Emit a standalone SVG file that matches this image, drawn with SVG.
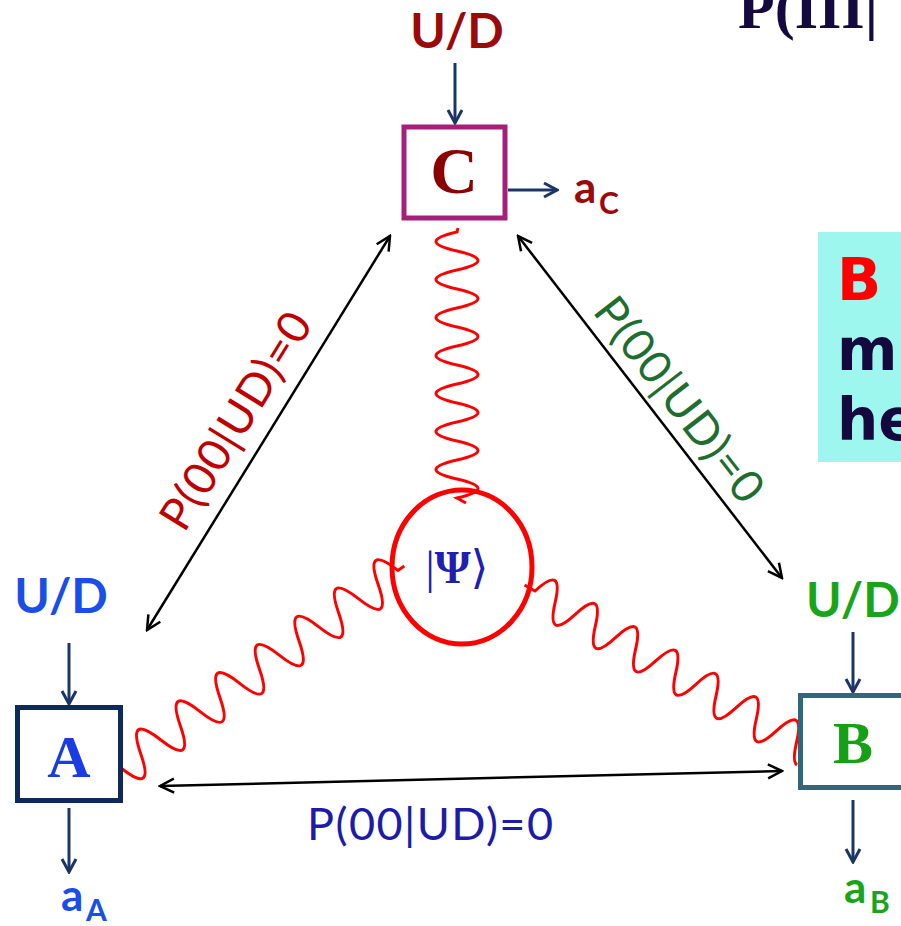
<svg xmlns="http://www.w3.org/2000/svg" width="901" height="926" viewBox="0 0 901 926">
<style>
.ud{font-family:Lato,"Liberation Sans",sans-serif;font-weight:bold;font-size:48px}
.out{font-family:Lato,"Liberation Sans",sans-serif;font-weight:bold;font-size:44px}
.sub{font-family:Lato,"Liberation Sans",sans-serif;font-weight:bold;font-size:30px}
.ser{font-family:"Liberation Serif","Times New Roman",serif;font-weight:bold;text-anchor:middle}
.lbl{font-family:Lato,"Liberation Sans",sans-serif;font-size:45px;text-anchor:middle}
.box{fill:#fff;stroke-width:5}
.nav{stroke:#1a3668;stroke-width:3;fill:none}
.blk{stroke:#000;stroke-width:2.5;fill:none}
.wave{stroke:#ff0000;stroke-width:3;fill:none}
</style>
<defs>
<marker id="ab" viewBox="0 0 20 20" refX="18" refY="10" markerWidth="20" markerHeight="20" markerUnits="userSpaceOnUse" orient="auto-start-reverse"><path d="M4 3 L18 10 L4 17" fill="none" stroke="#000" stroke-width="2.5"/></marker>
<marker id="an" viewBox="0 0 20 20" refX="18" refY="10" markerWidth="20" markerHeight="20" markerUnits="userSpaceOnUse" orient="auto"><path d="M5 3 L18 10 L5 17" fill="none" stroke="#1a3668" stroke-width="3"/></marker>
</defs>
<rect width="901" height="926" fill="#fff"/>
<g id="title"><text x="738" y="28" font-family="'Liberation Serif',serif" font-weight="bold" font-size="60" fill="#140a40">P(III|</text></g>
<g id="note">
<rect x="818" y="232" width="90" height="230" fill="#9ef7ee"/>
<text x="837" y="300" font-family="'DejaVu Sans',sans-serif" font-weight="bold" font-size="58" fill="#ff0000">B</text>
<text x="837" y="370" font-family="'DejaVu Sans',sans-serif" font-weight="bold" font-size="58" fill="#14093e">m</text>
<text x="837" y="440" font-family="'DejaVu Sans',sans-serif" font-weight="bold" font-size="58" fill="#14093e">he</text>
</g>
<g id="waves">
<path class="wave" d="M458 228 L457 232 Q415 241.5 457 251 T457 270 T457 289 T457 308 T457 327 T457 346 T457 365 T457 384 T457 403 T457 422 T457 441 T457 460 T457 479 T457 498 L466 503"/>
<path class="wave" transform="translate(121,768) rotate(-35.5)" d="M0 0 Q12.15 42 24.3 0 T48.6 0 T72.9 0 T97.2 0 T121.5 0 T145.8 0 T170.1 0 T194.4 0 T218.7 0 T243 0 T267.3 0 T291.6 0 T315.9 0 T340.2 0 L348 0"/>
<path class="wave" transform="translate(535,591) rotate(30.1)" d="M-12 0 L0 0 Q11.625 -38 23.25 0 T46.5 0 T69.75 0 T93 0 T116.25 0 T139.5 0 T162.75 0 T186 0 T209.25 0 T232.5 0 T255.75 0 T279 0 T302.25 0 Q308.06 19 313.875 19"/>
</g>
<g id="psi">
<ellipse cx="462" cy="567" rx="70" ry="77" fill="none" stroke="#ff0000" stroke-width="5"/>
<text x="457" y="583" font-family="'Liberation Serif','DejaVu Serif',serif" font-size="46" fill="#2020b0" text-anchor="middle">|<tspan font-weight="bold">Ψ</tspan>⟩</text>
</g>
<g id="connectors">
<line class="blk" x1="147" y1="630" x2="390" y2="236" marker-start="url(#ab)" marker-end="url(#ab)"/>
<line class="blk" x1="518" y1="236" x2="782" y2="578" marker-start="url(#ab)" marker-end="url(#ab)"/>
<line class="blk" x1="160" y1="786" x2="782" y2="771" marker-start="url(#ab)" marker-end="url(#ab)"/>
<line class="nav" x1="455" y1="63" x2="455" y2="123" marker-end="url(#an)"/>
<line class="nav" x1="508" y1="190" x2="557" y2="190" marker-end="url(#an)"/>
<line class="nav" x1="69" y1="643" x2="69" y2="704" marker-end="url(#an)"/>
<line class="nav" x1="69" y1="808" x2="69" y2="872" marker-end="url(#an)"/>
<line class="nav" x1="853" y1="632" x2="853" y2="692" marker-end="url(#an)"/>
<line class="nav" x1="853" y1="800" x2="853" y2="862" marker-end="url(#an)"/>
<text class="lbl" fill="#c00000" transform="translate(249,429) rotate(-58.3)" textLength="246" lengthAdjust="spacing">P(00|UD)=0</text>
<text class="lbl" fill="#1e6e30" transform="translate(667,409) rotate(52.3)" textLength="246" lengthAdjust="spacing">P(00|UD)=0</text>
<text class="lbl" fill="#1c1ca8" x="430" y="840" textLength="246" lengthAdjust="spacing">P(00|UD)=0</text>
</g>
<g id="nodeC">
<text class="ud" x="457" y="48" text-anchor="middle" fill="#9b0a0a">U/D</text>
<rect class="box" x="404" y="127" width="101" height="91" stroke="#a5207a"/>
<text class="ser" x="454" y="193" font-size="66" fill="#8b0000">C</text>
<text class="out" x="574" y="203" fill="#9b0a0a">a</text>
<text class="sub" x="599" y="214" fill="#9b0a0a">C</text>
</g>
<g id="nodeA">
<text class="ud" x="61" y="613" text-anchor="middle" fill="#1a4ee8">U/D</text>
<rect class="box" x="17.5" y="707.5" width="103" height="93" stroke="#0d2a5e"/>
<text class="ser" x="69" y="777" font-size="60" fill="#1a3ce0">A</text>
<text class="out" x="61" y="911" fill="#1a4ee8">a</text>
<text class="sub" x="86" y="921" fill="#1a4ee8">A</text>
</g>
<g id="nodeB">
<text class="ud" x="806" y="617" fill="#19a519">U/D</text>
<rect class="box" x="800.5" y="695.5" width="105" height="92" stroke="#2f6878"/>
<text class="ser" x="853" y="763" font-size="60" fill="#15a015">B</text>
<text class="out" x="844" y="903" fill="#19a519">a</text>
<text class="sub" x="870" y="913" fill="#19a519">B</text>
</g>
</svg>
